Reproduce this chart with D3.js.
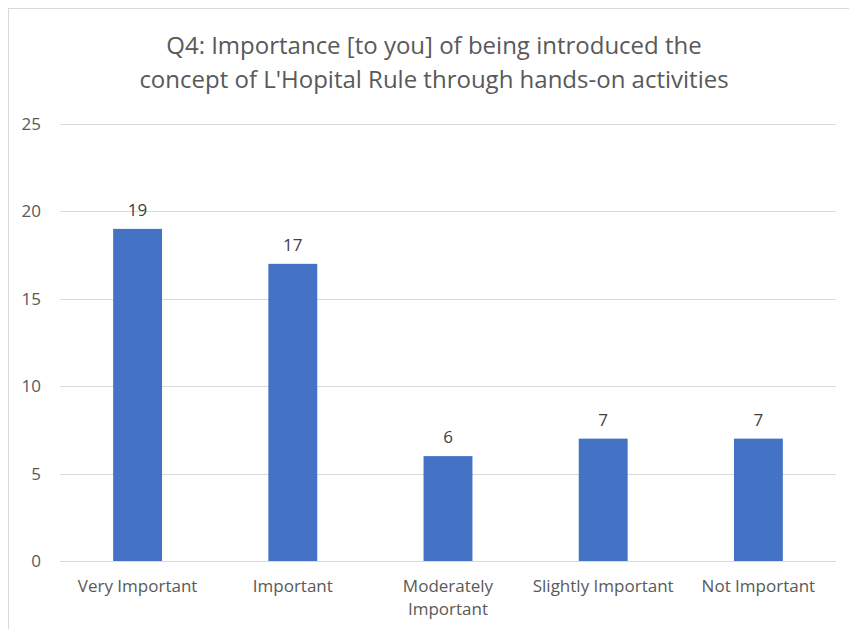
<!DOCTYPE html>
<html><head><meta charset="utf-8">
<script src="https://cdn.jsdelivr.net/npm/d3@7"></script>
<style>body{margin:0;background:#fff}svg{display:block}</style>
</head><body>
<svg id="chart" width="849" height="629"></svg>
<script>
const categories = ["Very Important", "Important", "Moderately Important", "Slightly Important", "Not Important"];
const values = [19, 17, 6, 7, 7];
const yTicks = [0, 5, 10, 15, 20, 25];
const titleLines = ["Q4: Importance [to you] of being introduced the", "concept of L'Hopital Rule through hands-on activities"];

const svg = d3.select("#chart");
const font = "'Open Sans', sans-serif";
svg.append("rect").attr("x", 8.5).attr("y", 8.5).attr("width", 860).attr("height", 640)
  .attr("fill", "#fff").attr("stroke", "#d9d9d9").attr("stroke-width", 1);

const m = {left: 60, right: 836, top: 124, bottom: 561};
const x = d3.scaleBand().domain(categories).range([m.left, m.right]).paddingInner(0.685).paddingOuter(0.3425);
const y = d3.scaleLinear().domain([0, 25]).range([m.bottom, m.top]);

svg.append("g").selectAll("line").data(yTicks).join("line")
  .attr("x1", m.left).attr("x2", m.right)
  .attr("y1", d => Math.round(y(d)) + 0.5).attr("y2", d => Math.round(y(d)) + 0.5)
  .attr("stroke", "#d9d9d9").attr("stroke-width", 1);

svg.append("g").selectAll("text").data(yTicks).join("text")
  .attr("x", 41).attr("y", d => y(d)).attr("dy", "0.35em").attr("text-anchor", "end")
  .attr("font-family", font).attr("font-size", 17).attr("fill", "#595959").text(d => d);

svg.append("g").selectAll("rect").data(values).join("rect")
  .attr("x", (d, i) => x(categories[i])).attr("width", x.bandwidth())
  .attr("y", d => y(d)).attr("height", d => y(0) - y(d)).attr("fill", "#4472c4");

svg.append("g").selectAll("text").data(values).join("text")
  .attr("x", (d, i) => x(categories[i]) + x.bandwidth() / 2).attr("y", d => y(d) - 13)
  .attr("text-anchor", "middle").attr("font-family", font).attr("font-size", 17).attr("fill", "#404040").text(d => d);

const wrap = {"Moderately Important": ["Moderately", "Important"]};
const xl = svg.append("g");
categories.forEach(c => {
  const lines = wrap[c] || [c];
  const t = xl.append("text").attr("text-anchor", "middle").attr("font-family", font).attr("font-size", 17).attr("fill", "#595959");
  lines.forEach((l, k) => t.append("tspan").attr("x", x(c) + x.bandwidth() / 2).attr("y", 592 + k * 23).text(l));
});

const tt = svg.append("text").attr("text-anchor", "middle").attr("font-family", font).attr("font-size", 24).attr("fill", "#595959");
titleLines.forEach((l, k) => tt.append("tspan").attr("x", 434).attr("y", 54 + k * 34).text(l));
</script>
</body></html>
